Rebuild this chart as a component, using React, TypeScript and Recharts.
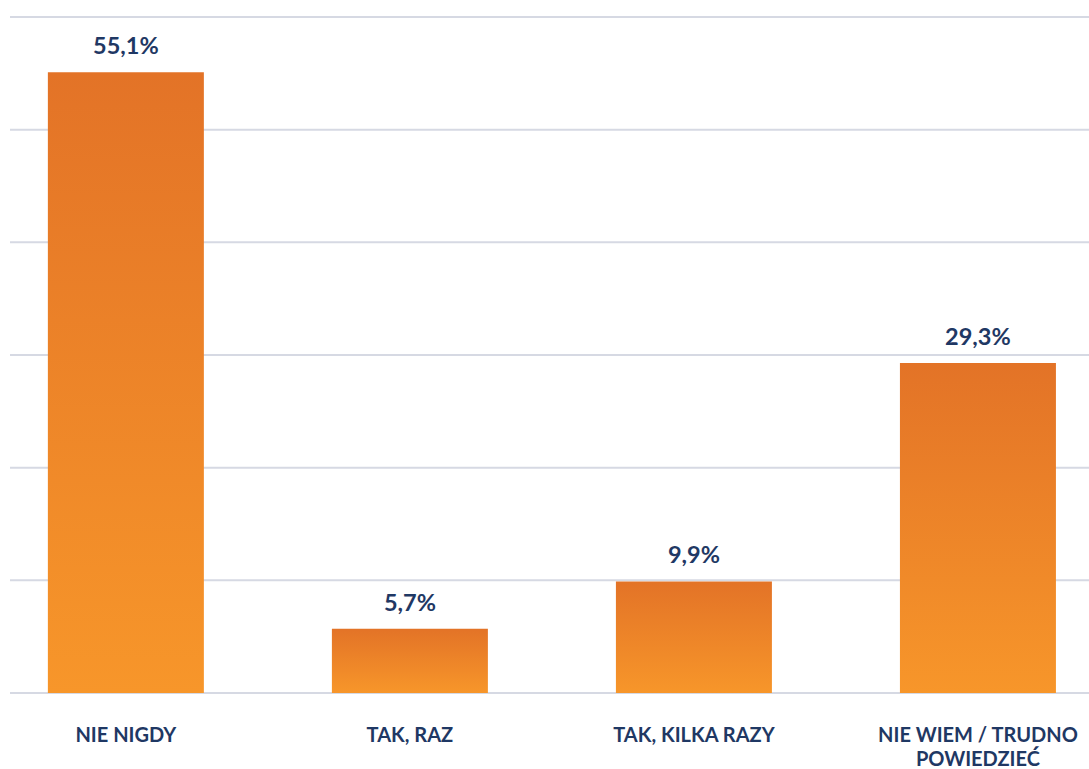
import React from 'react';
import { BarChart, Bar, XAxis, YAxis, CartesianGrid, LabelList, Text } from 'recharts';

const categories = ['NIE NIGDY', 'TAK, RAZ', 'TAK, KILKA RAZY', 'NIE WIEM / TRUDNO POWIEDZIEĆ'];
const values = [55.1, 5.7, 9.9, 29.3];
const yTicks = [0, 10, 20, 30, 40, 50, 60];

const data = categories.map((name, i) => ({ idx: i, name, value: values[i] }));

const TEXT = '#1F3864';
const FONT = 'Lato, "Open Sans", sans-serif';

const formatPct = (v: number) => v.toFixed(1).replace('.', ',') + '%';

const CategoryTick = (props: any) => {
  const { x, y, payload } = props;
  return (
    <Text
      x={x}
      y={y + 27}
      width={230}
      textAnchor="middle"
      verticalAnchor="start"
      lineHeight={24}
      fill={TEXT}
      fontSize={20}
      fontWeight={700}
      fontFamily={FONT}
    >
      {categories[payload.value]}
    </Text>
  );
};

const ValueLabel = (props: any) => {
  const { x, y, width, value } = props;
  return (
    <text
      x={x + width / 2}
      y={y - 18}
      textAnchor="middle"
      fill={TEXT}
      fontSize={23.5}
      fontWeight={700}
      fontFamily={FONT}
    >
      {formatPct(value)}
    </text>
  );
};

export default function App() {
  return (
    <div style={{ position: 'absolute', left: 0, top: 0, width: 1089, height: 769, background: '#fff' }}>
      <BarChart width={1089} height={769} data={data} margin={{ top: 17, right: 0, bottom: 75, left: 10 }}>
        <defs>
          <linearGradient id="barGrad" x1="0" y1="0" x2="0" y2="1">
            <stop offset="0%" stopColor="#E37327" />
            <stop offset="100%" stopColor="#F7962A" />
          </linearGradient>
        </defs>
        <CartesianGrid vertical={false} stroke="#D6D9E3" strokeWidth={2} />
        <XAxis
          type="number"
          dataKey="idx"
          domain={[-0.408, 3.391]}
          ticks={[0, 1, 2, 3]}
          height={1}
          axisLine={false}
          tickLine={false}
          tick={<CategoryTick />}
          interval={0}
          allowDataOverflow
        />
        <YAxis hide domain={[0, 60]} ticks={yTicks} />
        <Bar dataKey="value" fill="url(#barGrad)" barSize={156} isAnimationActive={false}>
          <LabelList dataKey="value" content={<ValueLabel />} />
        </Bar>
      </BarChart>
    </div>
  );
}
